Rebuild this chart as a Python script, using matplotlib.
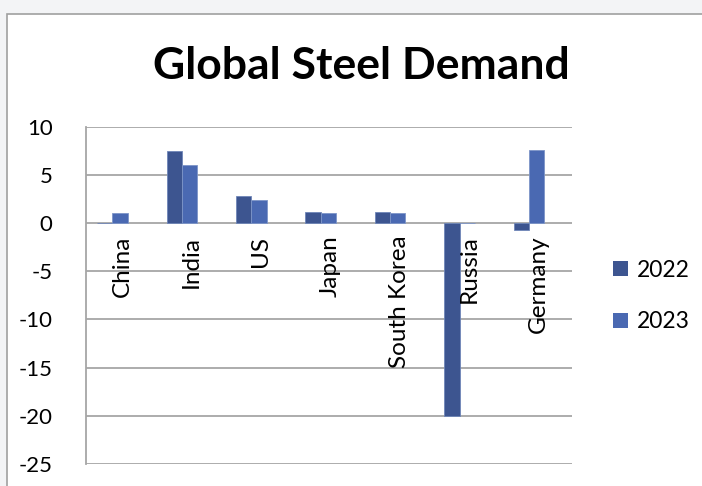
import matplotlib
matplotlib.use("Agg")
import matplotlib.pyplot as plt
from matplotlib.patches import Rectangle, Patch
import matplotlib.transforms as mtransforms
import numpy as np

countries = ["China", "India", "US", "Japan", "South Korea", "Russia", "Germany"]
demand_2022 = [0.0, 7.5, 2.8, 1.2, 1.2, -20.0, -0.7]
demand_2023 = [1.0, 6.0, 2.4, 1.0, 1.0, 0.0, 7.6]
series_names = ["2022", "2023"]
y_ticks = [10, 5, 0, -5, -10, -15, -20, -25]
title = "Global Steel Demand"

col_2022 = "#3d5590"
col_2023 = "#4a69b2"
grid_col = "#a6a6a6"
font = "Lato"

W, H = 702, 486
fig = plt.figure(figsize=(W / 100, H / 100), dpi=100)
fig.patch.set_facecolor("#f3f4f6")

# chart area (white with gray border) extending beyond the image
fig.patches.append(Rectangle((7 / W, -0.1), 1.2, (H - 14) / H + 0.1,
                             transform=fig.transFigure, facecolor="white",
                             edgecolor="#a0a0a0", linewidth=1.2, zorder=-5))

ax = fig.add_axes([86 / W, (H - 464) / H, (572 - 86) / W, (464 - 126.7) / H])
ax.set_facecolor("none")

x = np.arange(len(countries))
bw = 0.22
ax.bar(x - 0.23, demand_2022, width=bw, color=col_2022, edgecolor="#6f86b8",
       linewidth=0.6, zorder=3, label=series_names[0])
ax.bar(x - 0.01, demand_2023, width=bw, color=col_2023, edgecolor="#7d95c8",
       linewidth=0.6, zorder=3, label=series_names[1])

ax.set_xlim(-0.5, len(countries) - 0.5)
ax.set_ylim(-25, 10)
ax.set_yticks(y_ticks)
ax.set_yticklabels([str(t) for t in y_ticks], fontsize=16, family=font)
ax.tick_params(axis="y", length=0, pad=24)
ax.set_xticks([])
for s in ["top", "right", "bottom"]:
    ax.spines[s].set_visible(False)
ax.spines["left"].set_color(grid_col)
ax.spines["left"].set_linewidth(1.3)
ax.yaxis.grid(True, color=grid_col, linewidth=1.3, zorder=1)
ax.set_axisbelow(True)

# category labels rotated, hanging below zero line
off = mtransforms.offset_copy(ax.transData, fig=fig, x=1, y=-9, units="points")
for i, c in enumerate(countries):
    ax.text(i, 0, c, rotation=90, ha="center", va="top", fontsize=17.5,
            family=font, transform=off, zorder=4)

fig.text(361 / W, 1 - 66 / H, title, ha="center", va="center",
         fontsize=32, fontweight="bold", family=font)

handles = [Patch(facecolor=col_2022), Patch(facecolor=col_2023)]
fig.legend(handles, series_names, loc="center left",
           bbox_to_anchor=(592 / W, 1 - 296 / H), frameon=False,
           prop={"family": font, "size": 16.5}, handlelength=0.65,
           handleheight=0.65, handletextpad=0.4, labelspacing=1.35)

fig.savefig("out.png", dpi=100)
